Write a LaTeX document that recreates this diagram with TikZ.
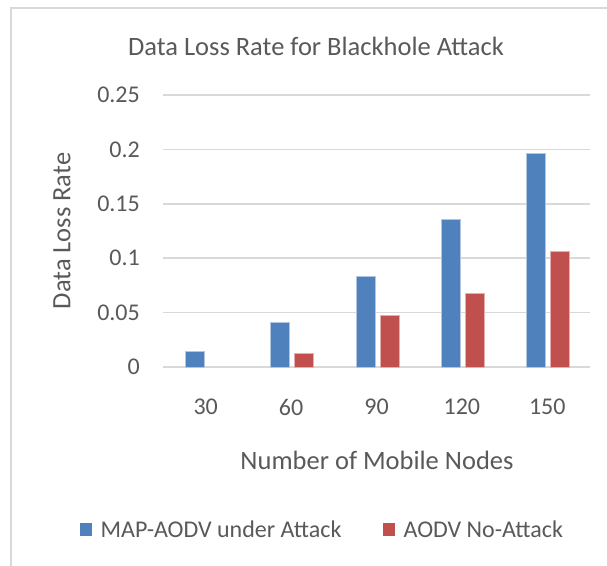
\documentclass[tikz,border=0pt]{standalone}
\usepackage{fontspec}
\setmainfont{Carlito}
\usetikzlibrary{positioning}

\definecolor{mapblue}{HTML}{4F81BD}
\definecolor{aodvred}{HTML}{C0504D}
\definecolor{gridgray}{HTML}{D9D9D9}
\definecolor{textgray}{HTML}{595959}

\begin{document}
\begin{tikzpicture}[
                x=1pt, y=-1pt,
                every node/.style={text=textgray, inner sep=0pt},
                gridline/.style={draw=gridgray, line width=1.5pt},
                bar/.style={fill=#1, draw=#1!45!white, line width=0.8pt},
                ticklabel/.style={font=\fontsize{24}{28}\selectfont, anchor=east},
                catlabel/.style={font=\fontsize{24}{28}\selectfont},
                axistitle/.style={font=\fontsize{26.5}{30}\selectfont},
                legbox/.style={minimum size=12.5pt, inner sep=0pt},
                legtext/.style={font=\fontsize{24}{28}\selectfont}
            ]
            \useasboundingbox (0,0) rectangle (607,565);

            % chart frame
            \draw[gridgray, line width=2pt] (11,575) -- (11,8) -- (615,8);

            % gridlines and value labels
            \foreach \t [count=\k from 0] in {0,0.05,0.1,0.15,0.2,0.25} {
                \draw[gridline] (163,{367-54.4*\k}) -- (590,{367-54.4*\k});
                \node[ticklabel] (tick\k) at (140,{367-54.4*\k}) {\t};
            }

            % bars
            \foreach \v [count=\i] in {0.0147,0.0407,0.0833,0.136,0.196} {
                \pgfmathsetmacro\c{163+85.4*(\i-0.5)}
                \draw[bar=mapblue] ({\c-20.5},367) rectangle ({\c-1.5},{367-1088*\v});
            }
            \foreach \i/\v in {2/0.0126,3/0.0478,4/0.0677,5/0.1066} {
                \pgfmathsetmacro\c{163+85.4*(\i-0.5)}
                \draw[bar=aodvred] ({\c+3.5},367) rectangle ({\c+22.5},{367-1088*\v});
            }

            % categories
            \foreach \n [count=\i] in {30,60,90,120,150}
                \node[catlabel] (cat\i) at ({163+85.4*(\i-0.5)},407) {\n};

            \node[axistitle] (title) at (316,46) {Data Loss Rate for Blackhole Attack};
            \node[axistitle] (xtitle) at (377,460) {Number of Mobile Nodes};
            \node[axistitle, rotate=90] (ytitle) at (62,231) {Data Loss Rate};

            % legend
            \node[legbox, fill=mapblue] (keyA) at (86,529.5) {};
            \node[legtext, right=8pt of keyA] (keyAtext) {MAP-AODV under Attack};
            \node[legbox, fill=aodvred] (keyB) at (389,529.5) {};
            \node[legtext, right=8pt of keyB] (keyBtext) {AODV No-Attack};
        \end{tikzpicture}
\end{document}
